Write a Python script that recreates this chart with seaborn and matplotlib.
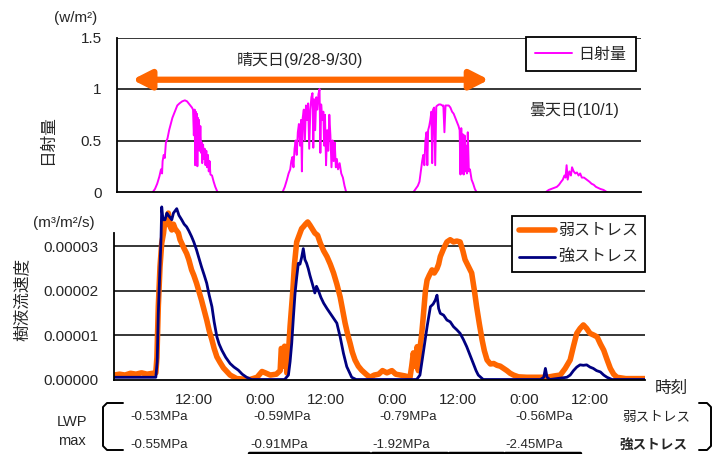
import numpy as np
import pandas as pd
import matplotlib
matplotlib.use("Agg")
import matplotlib.pyplot as plt
from matplotlib.lines import Line2D
import matplotlib.transforms as mtransforms
import seaborn as sns

# ---------------- data ----------------
# solar radiation (hours from 0:00 9/28, value w/m2 scaled), per day
rad_day1_h = [6.6, 7.0, 7.4, 7.8, 8.1, 8.3, 8.4, 8.6, 8.8, 9.0, 9.3, 9.6, 9.9, 10.2, 10.5, 10.8, 11.1, 11.5, 12.0,
              12.5, 12.9, 13.2, 13.5, 13.8, 14.0, 14.15, 14.3, 14.4, 14.5, 14.6, 14.7, 14.8, 14.9, 15.0, 15.1, 15.2,
              15.35, 15.5, 15.6, 15.7, 15.85, 16.0, 16.15, 16.3, 16.45, 16.6, 16.75, 16.9, 17.05, 17.2, 17.5, 17.8,
              18.1, 18.5]
rad_day1_v = [0.0, 0.03, 0.08, 0.15, 0.22, 0.18, 0.30, 0.36, 0.33, 0.48, 0.52, 0.60, 0.66, 0.72, 0.76, 0.80, 0.84, 0.86,
              0.88, 0.89, 0.88, 0.86, 0.84, 0.82, 0.80, 0.55, 0.80, 0.26, 0.78, 0.30, 0.76, 0.25, 0.72, 0.45, 0.70, 0.40,
              0.64, 0.38, 0.48, 0.28, 0.46, 0.32, 0.42, 0.26, 0.40, 0.24, 0.36, 0.20, 0.30, 0.17, 0.16, 0.10, 0.05, 0.0]
rad_day2_h = [30.5, 30.9, 31.3, 31.6, 31.9, 32.1, 32.3, 32.5, 32.7, 32.9, 33.1, 33.3, 33.5, 33.7, 33.9, 34.05, 34.2,
              34.4, 34.6, 34.8, 35.0, 35.2, 35.4, 35.6, 35.8, 36.0, 36.15, 36.3, 36.5, 36.7, 36.9, 37.1, 37.3, 37.45,
              37.6, 37.8, 38.0, 38.15, 38.3, 38.5, 38.7, 38.9, 39.1, 39.3, 39.5, 39.7, 39.9, 40.1, 40.3, 40.5, 40.7,
              41.0, 41.3, 41.6, 41.9, 42.2]
rad_day2_v = [0.0, 0.05, 0.12, 0.18, 0.22, 0.30, 0.34, 0.24, 0.42, 0.50, 0.36, 0.58, 0.66, 0.45, 0.70, 0.20, 0.72,
              0.80, 0.50, 0.84, 0.70, 0.86, 0.42, 0.80, 0.92, 0.96, 0.43, 0.90, 0.60, 0.92, 0.80, 0.95, 1.00, 0.38,
              0.85, 0.70, 0.78, 0.45, 0.75, 0.26, 0.60, 0.40, 0.75, 0.55, 0.24, 0.50, 0.30, 0.48, 0.24, 0.32, 0.22,
              0.28, 0.18, 0.14, 0.06, 0.0]
rad_day3_h = [54.6, 55.0, 55.4, 55.7, 56.0, 56.2, 56.4, 56.6, 56.8, 57.0, 57.15, 57.3, 57.5, 57.7, 57.9, 58.05, 58.2,
              58.4, 58.6, 58.8, 59.0, 59.3, 59.6, 59.9, 60.1, 60.3, 60.5, 60.8, 61.1, 61.4, 61.7, 62.0, 62.3, 62.6,
              62.9, 63.1, 63.25, 63.4, 63.55, 63.7, 63.85, 64.0, 64.15, 64.3, 64.45, 64.6, 64.8, 65.0, 65.3, 65.6,
              65.9, 66.2]
rad_day3_v = [0.0, 0.03, 0.06, 0.10, 0.22, 0.30, 0.36, 0.26, 0.50, 0.58, 0.26, 0.60, 0.64, 0.70, 0.78, 0.28, 0.80,
              0.82, 0.26, 0.83, 0.84, 0.85, 0.85, 0.84, 0.84, 0.58, 0.84, 0.84, 0.84, 0.82, 0.78, 0.76, 0.72, 0.68,
              0.64, 0.60, 0.17, 0.62, 0.18, 0.56, 0.17, 0.55, 0.20, 0.45, 0.18, 0.58, 0.20, 0.22, 0.12, 0.08,
              0.03, 0.0]
rad_day4_h = [79.0, 79.5, 80.0, 80.5, 81.0, 81.4, 81.8, 82.1, 82.4, 82.6, 82.8, 83.0, 83.3, 83.6, 83.8, 84.1, 84.4,
              84.7, 85.0, 85.3, 85.6, 86.0, 86.5, 87.0, 87.4, 87.8, 88.2, 88.6, 89.0, 89.6, 90.2]
rad_day4_v = [0.0, 0.02, 0.03, 0.04, 0.05, 0.07, 0.10, 0.12, 0.16, 0.14, 0.26, 0.12, 0.20, 0.16, 0.24, 0.20, 0.18,
              0.19, 0.16, 0.18, 0.14, 0.14, 0.12, 0.10, 0.08, 0.07, 0.05, 0.04, 0.03, 0.02, 0.0]

# sap flow velocity (x 1e-5 m3/m2/s)
weak_h = [0, 1, 2, 3, 4, 5, 6, 7, 7.6, 7.8, 8.05, 8.36, 8.67, 9.0, 9.27, 9.6, 9.87, 10.2, 10.5, 10.8, 11.1, 11.4,
          11.7, 12.0, 12.3, 12.75, 13.2, 13.6, 14.1, 14.5, 15.0, 15.4, 15.9, 16.4, 16.85, 17.3, 17.8, 18.2, 18.7,
          19.3, 19.9, 20.5, 21.1, 22.3, 24.7, 26.0, 26.9, 27.5, 28.4, 29.5, 30.2, 30.4, 30.6, 30.8, 31.0, 31.2,
          31.4, 31.7, 32.0, 32.3, 32.5, 32.8, 33.2, 33.5, 33.8, 34.1, 34.4, 34.8, 35.2, 35.6, 36.0, 36.5, 37.0,
          37.5, 38.1, 38.7, 39.3, 39.9, 40.5, 41.1, 41.5, 42.0, 42.5, 42.9, 43.3, 43.8, 44.4, 45.0, 45.8, 46.5,
          47.3, 48.1, 48.8, 49.6, 50.5, 51.2, 52.0, 52.9, 53.8, 54.1, 54.4, 54.7, 55.1, 55.3, 55.6, 55.9, 56.2,
          56.6, 56.9, 57.3, 57.8, 58.2, 58.7, 59.0, 59.3, 59.9, 60.5, 61.1, 61.7, 62.3, 62.9, 63.4, 63.8, 64.4,
          65.0, 65.5, 65.9, 66.4, 66.9, 67.3, 67.8, 68.4, 69.0, 69.6, 70.2, 70.8, 71.4, 72.0, 72.6, 73.5, 75.0,
          77.0, 78.7, 80.0, 81.1, 82.0, 82.9, 83.5, 84.1, 84.7, 85.3, 85.9, 86.5, 87.2, 87.8, 88.4, 89.0, 89.6,
          90.2, 90.8, 91.4, 93.0, 96.5]
weak_v = [0.10, 0.12, 0.10, 0.14, 0.12, 0.15, 0.12, 0.14, 0.15, 0.5, 1.64, 2.54, 3.07, 3.3, 3.6, 3.5, 3.75, 3.45,
          3.37, 3.5, 3.4, 3.35, 3.3, 3.15, 3.07, 2.95, 2.84, 2.7, 2.47, 2.35, 2.17, 2.0, 1.79, 1.55, 1.34, 1.1,
          0.89, 0.70, 0.51, 0.38, 0.26, 0.18, 0.10, 0.02, 0.0, 0.05, 0.18, 0.15, 0.10, 0.12, 0.2, 0.7, 0.65, 0.3,
          0.75, 0.7, 0.15, 0.6, 1.2, 1.7, 2.0, 2.6, 3.1, 3.2, 3.3, 3.4, 3.44, 3.5, 3.55, 3.48, 3.4, 3.3, 3.25,
          3.07, 2.9, 2.77, 2.6, 2.4, 2.15, 1.86, 1.6, 1.27, 1.0, 0.82, 0.62, 0.44, 0.3, 0.21, 0.12, 0.05, 0.1,
          0.12, 0.2, 0.15, 0.2, 0.12, 0.1, 0.08, 0.05, 0.3, 0.6, 0.3, 0.74, 0.2, 0.7, 1.0, 1.41, 2.0, 2.24, 2.35,
          2.47, 2.4, 2.5, 2.6, 2.77, 2.95, 3.1, 3.15, 3.1, 3.12, 3.1, 2.9, 2.7, 2.55, 2.4, 2.0, 1.64, 1.25, 0.89,
          0.65, 0.44, 0.35, 0.36, 0.32, 0.30, 0.25, 0.20, 0.14, 0.10, 0.06, 0.05, 0.05, 0.05, 0.08, 0.10, 0.25,
          0.44, 0.75, 1.04, 1.15, 1.23, 1.15, 1.04, 1.0, 0.96, 0.8, 0.66, 0.45, 0.25, 0.12, 0.05, 0.02, 0.02]
strong_h = [0, 2, 4, 6, 7.6, 7.85, 8.05, 8.36, 8.55, 8.67, 8.9, 9.27, 9.6, 9.87, 10.2, 10.5, 10.8, 11.1, 11.4, 11.8,
            12.3, 12.75, 13.2, 13.6, 14.1, 14.5, 15.0, 15.4, 15.9, 16.4, 16.85, 17.3, 17.8, 18.2, 18.7, 19.1, 19.6,
            20.3, 21.1, 21.8, 22.6, 23.3, 24.1, 25.0, 28.0, 31.0, 31.7, 32.0, 32.3, 32.6, 32.9, 33.2, 33.5, 33.8,
            34.1, 34.4, 34.7, 35.0, 35.3, 35.6, 36.2, 36.5, 36.8, 37.1, 37.6, 38.1, 38.7, 39.3, 39.9, 40.5, 41.1,
            41.7, 42.3, 43.2, 44.0, 48.0, 52.0, 55.0, 55.6, 56.2, 56.9, 57.5, 58.0, 58.4, 58.7, 59.0, 59.3, 59.9,
            60.5, 61.1, 61.7, 62.3, 62.9, 63.5, 64.1, 64.7, 65.3, 65.8, 66.2, 67.1, 72.0, 77.5, 78.1, 78.4, 78.7,
            79.2, 82.3, 82.9, 83.5, 84.1, 84.7, 85.3, 85.9, 86.5, 87.1, 87.7, 88.4, 89.0, 89.6, 90.5, 96.5]
strong_v = [0.05, 0.05, 0.05, 0.05, 0.05, 0.4, 1.49, 2.54, 3.2, 3.89, 3.6, 3.6, 3.75, 3.7, 3.65, 3.6, 3.75, 3.8,
            3.85, 3.7, 3.6, 3.5, 3.44, 3.35, 3.22, 3.1, 2.92, 2.75, 2.54, 2.35, 2.17, 1.9, 1.64, 1.3, 0.96, 0.8,
            0.66, 0.5, 0.36, 0.28, 0.21, 0.12, 0.05, 0.0, 0.0, 0.0, 0.1, 0.4, 0.82, 1.4, 1.94, 2.3, 2.62, 2.6,
            2.75, 2.95, 2.7, 2.62, 2.5, 2.35, 2.09, 1.95, 2.1, 2.02, 1.85, 1.72, 1.6, 1.49, 1.38, 1.27, 0.96, 0.59,
            0.29, 0.05, 0.0, 0.0, 0.0, 0.0, 0.1, 0.6, 1.19, 1.64, 1.7, 1.79, 1.9, 1.6, 1.49, 1.45, 1.34, 1.3, 1.19,
            1.12, 1.04, 0.9, 0.74, 0.55, 0.36, 0.2, 0.1, 0.0, 0.0, 0.0, 0.05, 0.25, 0.05, 0.0, 0.05, 0.1, 0.2,
            0.28, 0.33, 0.32, 0.33, 0.28, 0.25, 0.2, 0.17, 0.1, 0.05, 0.0, 0.0]

x_tick_hours = [12, 24, 36, 48, 60, 72, 84]
x_tick_labels = ["12:00", "0:00", "12:00", "0:00", "12:00", "0:00", "12:00"]
rad_yticks = [0, 0.5, 1, 1.5]
rad_ylabels = ["0", "0.5", "1", "1.5"]
sap_yticks = [0, 1e-5, 2e-5, 3e-5]
sap_ylabels = ["0.00000", "0.00001", "0.00002", "0.00003"]

lwp_weak = ["-0.53MPa", "-0.59MPa", "-0.79MPa", "-0.56MPa"]
lwp_strong = ["-0.55MPa", "-0.91MPa", "-1.92MPa", "-2.45MPa"]

# ---------------- style ----------------
sns.set_style("white")
plt.rcParams["font.family"] = ["Liberation Sans", "Noto Sans CJK JP", "DejaVu Sans"]
plt.rcParams["axes.unicode_minus"] = False

W, H = 713, 454
fig = plt.figure(figsize=(W / 100, H / 100), dpi=100)


def fx(px):
    return px / W


def fy(py):
    return 1 - py / H


ORANGE = "#FF6600"
NAVY = "#000080"
MAGENTA = "#FF00FF"

# ---------------- top panel ----------------
ax1 = fig.add_axes([fx(117), fy(192), fx(641) - fx(117), fy(37.5) - fy(192)])
rad_df = pd.concat([
    pd.DataFrame({"hour": h, "rad": v, "day": d})
    for d, (h, v) in enumerate([(rad_day1_h, rad_day1_v), (rad_day2_h, rad_day2_v),
                                (rad_day3_h, rad_day3_v), (rad_day4_h, rad_day4_v)])
])
sns.lineplot(data=rad_df, x="hour", y="rad", units="day", estimator=None, color=MAGENTA, lw=1.4,
             ax=ax1, legend=False, zorder=3)
ax1.set_xlim(0, 96.5)
ax1.set_ylim(0, 1.5)
ax1.set_yticks(rad_yticks)
ax1.set_yticklabels(rad_ylabels, fontsize=11)
ax1.set_xticks(np.arange(12, 97, 12))
ax1.set_xticklabels([])
ax1.tick_params(axis="x", direction="inout", length=5, width=1, color="black")
ax1.tick_params(axis="y", direction="out", length=3, width=1, color="black", pad=8)
for y in [0.5, 1.0, 1.5]:
    ax1.axhline(y, color="black", lw=1.1, zorder=1)
for s in ["top", "right"]:
    ax1.spines[s].set_visible(False)
for s in ["left", "bottom"]:
    ax1.spines[s].set_color("black")
    ax1.spines[s].set_linewidth(1.3)
    ax1.spines[s].set_zorder(5)
ax1.set_xlabel("")
ax1.set_ylabel("")

ax1.annotate("", xy=(68.5, 1.09), xytext=(2.8, 1.09),
             arrowprops=dict(arrowstyle="<|-|>,head_length=0.55,head_width=0.28", color=ORANGE, lw=4.5,
                             shrinkA=0, shrinkB=0, mutation_scale=20))
ax1.text(33.6, 1.28, "晴天日(9/28-9/30)", ha="center", va="center", fontsize=11.5)
ax1.text(84.2, 0.80, "曇天日(10/1)", ha="center", va="center", fontsize=11.5)

leg1 = ax1.legend(handles=[Line2D([], [], color=MAGENTA, lw=1.4)], labels=["日射量"],
                  loc="upper right", bbox_to_anchor=(fx(636), fy(37)), bbox_transform=fig.transFigure,
                  fontsize=11.5, frameon=True, fancybox=False, framealpha=1, edgecolor="black",
                  handlelength=2.3, borderpad=0.6, handletextpad=0.4, borderaxespad=0)
leg1.get_frame().set_linewidth(1.3)

# ---------------- bottom panel ----------------
ax2 = fig.add_axes([fx(114), fy(379.5), fx(645) - fx(114), fy(202) - fy(379.5)])
sap_weak = np.array(weak_v) * 1e-5
sap_strong = np.array(strong_v) * 1e-5
sns.lineplot(x=weak_h, y=sap_weak, estimator=None, color=ORANGE, lw=4.0, ax=ax2, label="弱ストレス", zorder=3)
sns.lineplot(x=strong_h, y=sap_strong, estimator=None, color=NAVY, lw=2.0, ax=ax2, label="強ストレス", zorder=4)
ax2.set_xlim(0, 96.5)
ax2.set_ylim(0, 4e-5)
ax2.set_yticks(sap_yticks)
ax2.set_yticklabels(sap_ylabels, fontsize=11)
ax2.set_xticks(x_tick_hours)
ax2.set_xticklabels(x_tick_labels, fontsize=11)
ax2.set_xticks([12, 36, 60, 84, 96.5], minor=True)
ax2.tick_params(axis="x", which="major", length=0, pad=10)
ax2.tick_params(axis="x", which="minor", direction="inout", length=5, width=1, color="black")
ax2.tick_params(axis="y", direction="out", length=3, width=1, color="black", pad=8)
offset = mtransforms.ScaledTranslation(14 / 100, 0, fig.dpi_scale_trans)
for lbl in ax2.get_xticklabels():
    lbl.set_transform(lbl.get_transform() + offset)
for y in [1e-5, 2e-5, 3e-5]:
    ax2.axhline(y, color="black", lw=1.1, zorder=1)
for s in ["top", "right"]:
    ax2.spines[s].set_visible(False)
for s in ["left", "bottom"]:
    ax2.spines[s].set_color("black")
    ax2.spines[s].set_linewidth(1.3)
    ax2.spines[s].set_zorder(5)
ax2.spines["left"].set_bounds(0, 3.3e-5)
ax2.set_xlabel("")
ax2.set_ylabel("")
leg2 = ax2.legend(loc="upper right", bbox_to_anchor=(fx(645), fy(216)), bbox_transform=fig.transFigure,
                  fontsize=11.5, frameon=True, fancybox=False, framealpha=1, edgecolor="black",
                  handlelength=2.2, borderpad=0.45, handletextpad=0.2, labelspacing=0.75, borderaxespad=0)
leg2.get_frame().set_linewidth(1.3)

# ---------------- annotations in figure space ----------------
fig.text(fx(47), fy(140), "日射量", rotation=90, ha="center", va="center", fontsize=12)
fig.text(fx(22), fy(299), "樹液流速度", rotation=90, ha="center", va="center", fontsize=12)
fig.text(fx(76), fy(18), "(w/m²)", ha="center", va="center", fontsize=11)
fig.text(fx(64), fy(223), "(m³/m²/s)", ha="center", va="center", fontsize=11)
fig.text(fx(671), fy(388), "時刻", ha="center", va="center", fontsize=12)

fig.text(fx(72), fy(422), "LWP", ha="center", va="center", fontsize=10.5)
fig.text(fx(72), fy(441), "max", ha="center", va="center", fontsize=10.5)

row1_x = [130, 253, 379, 515]
row2_x = [130, 250, 372, 505]
for xx, t in zip(row1_x, lwp_weak):
    fig.text(fx(xx), fy(417), t, ha="left", va="center", fontsize=9.5)
for xx, t in zip(row2_x, lwp_strong):
    fig.text(fx(xx), fy(445), t, ha="left", va="center", fontsize=9.5)
fig.text(fx(622), fy(417), "弱ストレス", ha="left", va="center", fontsize=9.8)
fig.text(fx(620), fy(445), "強ストレス", ha="left", va="center", fontsize=9.8,
         fontweight="bold", fontstyle="italic")

# underline bars under the strong-stress row
for x0, x1 in [(249, 369), (371.5, 447), (449, 503), (505, 580)]:
    fig.add_artist(Line2D([fx(x0), fx(x1)], [fy(452.5), fy(452.5)], color="black", lw=2.5,
                          transform=fig.transFigure))

# brackets
fig.add_artist(Line2D([fx(123), fx(107), fx(103), fx(103), fx(107), fx(123)],
                      [fy(403), fy(403), fy(407), fy(446), fy(450), fy(450)],
                      color="black", lw=1.4, transform=fig.transFigure))
fig.add_artist(Line2D([fx(699), fx(707), fx(711), fx(711), fx(707), fx(699)],
                      [fy(403), fy(403), fy(407), fy(446), fy(450), fy(450)],
                      color="black", lw=1.4, transform=fig.transFigure))

fig.savefig("out.png", dpi=100)
